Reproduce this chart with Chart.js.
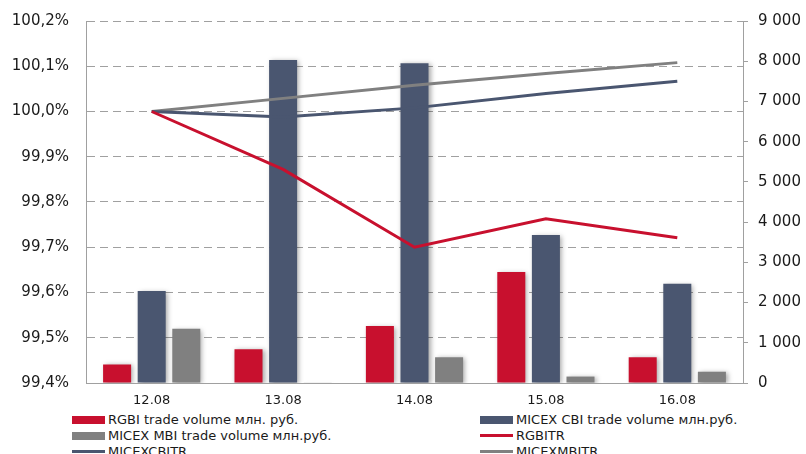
<!DOCTYPE html>
<html>
<head>
<meta charset="utf-8">
<script src="https://cdn.jsdelivr.net/npm/chart.js@4/dist/chart.umd.min.js"></script>
<style>
  html, body { margin: 0; padding: 0; background: #fff; overflow: hidden; }
  #wrap { position: relative; width: 806px; height: 454px; overflow: hidden; }
  #chartBox { position: absolute; left: 0; top: -5px; width: 806px; height: 417px; }
  .lg { position: absolute; font: 13px "DejaVu Sans", Verdana, sans-serif; color: #1a1a1a; white-space: nowrap; line-height: 15px; height: 15px; }
  .lg i { display: inline-block; width: 33px; vertical-align: middle; margin-right: 3px; position: relative; top: -1px; }
</style>
</head>
<body>
<div id="wrap">
  <div id="chartBox"><canvas id="c"></canvas></div>
  <div id="legend"></div>
</div>
<script>
// ---- data ----
const categories = ['12.08', '13.08', '14.08', '15.08', '16.08'];
const rgbiVolume = [460, 840, 1420, 2760, 640];
const cbiVolume = [2290, 8030, 7950, 3680, 2470];
const mbiVolume = [1350, 15, 640, 160, 280];
const rgbitr = [100.0, 99.872, 99.700, 99.763, 99.721];
const micexcbitr = [100.0, 99.988, 100.008, 100.040, 100.067];
const micexmbitr = [100.0, 100.029, 100.058, 100.084, 100.108];
const seriesNames = ['RGBI trade volume млн. руб.', 'MICEX CBI trade volume млн.руб.', 'MICEX MBI trade volume млн.руб.', 'RGBITR', 'MICEXCBITR', 'MICEXMBITR'];

const RED = '#C8102E', BLUE = '#4A5670', GRAY = '#808080';
const GRID = '#a0a0a0';

const shadowPlugin = {
  id: 'barShadow',
  beforeDatasetDraw(chart, args) {
    if (args.meta.type === 'bar') {
      const ctx = chart.ctx;
      ctx.save();
      ctx.shadowColor = 'rgba(0,0,0,0.35)';
      ctx.shadowBlur = 5;
      ctx.shadowOffsetX = 2;
      ctx.shadowOffsetY = 1;
    }
  },
  afterDatasetDraw(chart, args) {
    if (args.meta.type === 'bar') chart.ctx.restore();
  }
};

const tickFont = { family: '"DejaVu Sans", Verdana, sans-serif', size: 15 };
const barOpts = { yAxisID: 'y2', order: 1, categoryPercentage: 0.79, barPercentage: 0.81 };

new Chart(document.getElementById('c'), {
  data: {
    labels: categories,
    datasets: [
      { type: 'line', label: seriesNames[3], data: rgbitr, yAxisID: 'y', borderColor: RED, borderWidth: 3, pointRadius: 0, order: 0, tension: 0 },
      { type: 'line', label: seriesNames[4], data: micexcbitr, yAxisID: 'y', borderColor: BLUE, borderWidth: 3, pointRadius: 0, order: 0, tension: 0 },
      { type: 'line', label: seriesNames[5], data: micexmbitr, yAxisID: 'y', borderColor: GRAY, borderWidth: 3, pointRadius: 0, order: 0, tension: 0 },
      Object.assign({ type: 'bar', label: seriesNames[0], data: rgbiVolume, backgroundColor: RED }, barOpts),
      Object.assign({ type: 'bar', label: seriesNames[1], data: cbiVolume, backgroundColor: BLUE }, barOpts),
      Object.assign({ type: 'bar', label: seriesNames[2], data: mbiVolume, backgroundColor: GRAY }, barOpts)
    ]
  },
  options: {
    responsive: true,
    maintainAspectRatio: false,
    animation: false,
    layout: { padding: { top: 15, left: 0, right: 0, bottom: 0 } },
    plugins: { legend: { display: false }, tooltip: { enabled: false } },
    scales: {
      x: {
        grid: { display: false, drawTicks: false },
        border: { display: true, color: GRID, width: 1 },
        ticks: { color: '#1a1a1a', font: { family: tickFont.family, size: 13 }, padding: 10, maxRotation: 0 },
        afterFit(s) { s.height = 29; }
      },
      y: {
        position: 'left',
        min: 99.4, max: 100.2,
        ticks: { stepSize: 0.1, color: '#1a1a1a', font: tickFont, padding: 17,
          callback: v => v.toFixed(1).replace('.', ',') + '%' },
        grid: { color: GRID, drawTicks: false, lineWidth: 1 },
        border: { display: true, color: GRID, dash: [8, 5] },
        afterFit(s) { s.width = 86; }
      },
      y2: {
        position: 'right',
        min: 0, max: 9000,
        ticks: { stepSize: 1000, color: '#1a1a1a', font: tickFont, padding: 10,
          callback: v => String(v).replace(/\B(?=(\d{3})+(?!\d))/g, ' ') },
        grid: { drawOnChartArea: false, color: GRID, tickLength: 5 },
        border: { display: true, color: GRID },
        afterFit(s) { s.width = 63; }
      }
    }
  },
  plugins: [shadowPlugin]
});

// ---- legend (HTML text) ----
const legendItems = [
  { name: seriesNames[0], color: RED, h: 8, x: 72, y: 412 },
  { name: seriesNames[1], color: BLUE, h: 8, x: 480, y: 412 },
  { name: seriesNames[2], color: GRAY, h: 8, x: 72, y: 428 },
  { name: seriesNames[3], color: RED, h: 3, x: 480, y: 428 },
  { name: seriesNames[4], color: BLUE, h: 3, x: 72, y: 444 },
  { name: seriesNames[5], color: GRAY, h: 3, x: 480, y: 444 }
];
const lg = document.getElementById('legend');
legendItems.forEach(it => {
  const d = document.createElement('div');
  d.className = 'lg';
  d.style.left = it.x + 'px';
  d.style.top = it.y + 'px';
  const i = document.createElement('i');
  i.style.height = it.h + 'px';
  i.style.background = it.color;
  d.appendChild(i);
  d.appendChild(document.createTextNode(it.name));
  lg.appendChild(d);
});
</script>
</body>
</html>
